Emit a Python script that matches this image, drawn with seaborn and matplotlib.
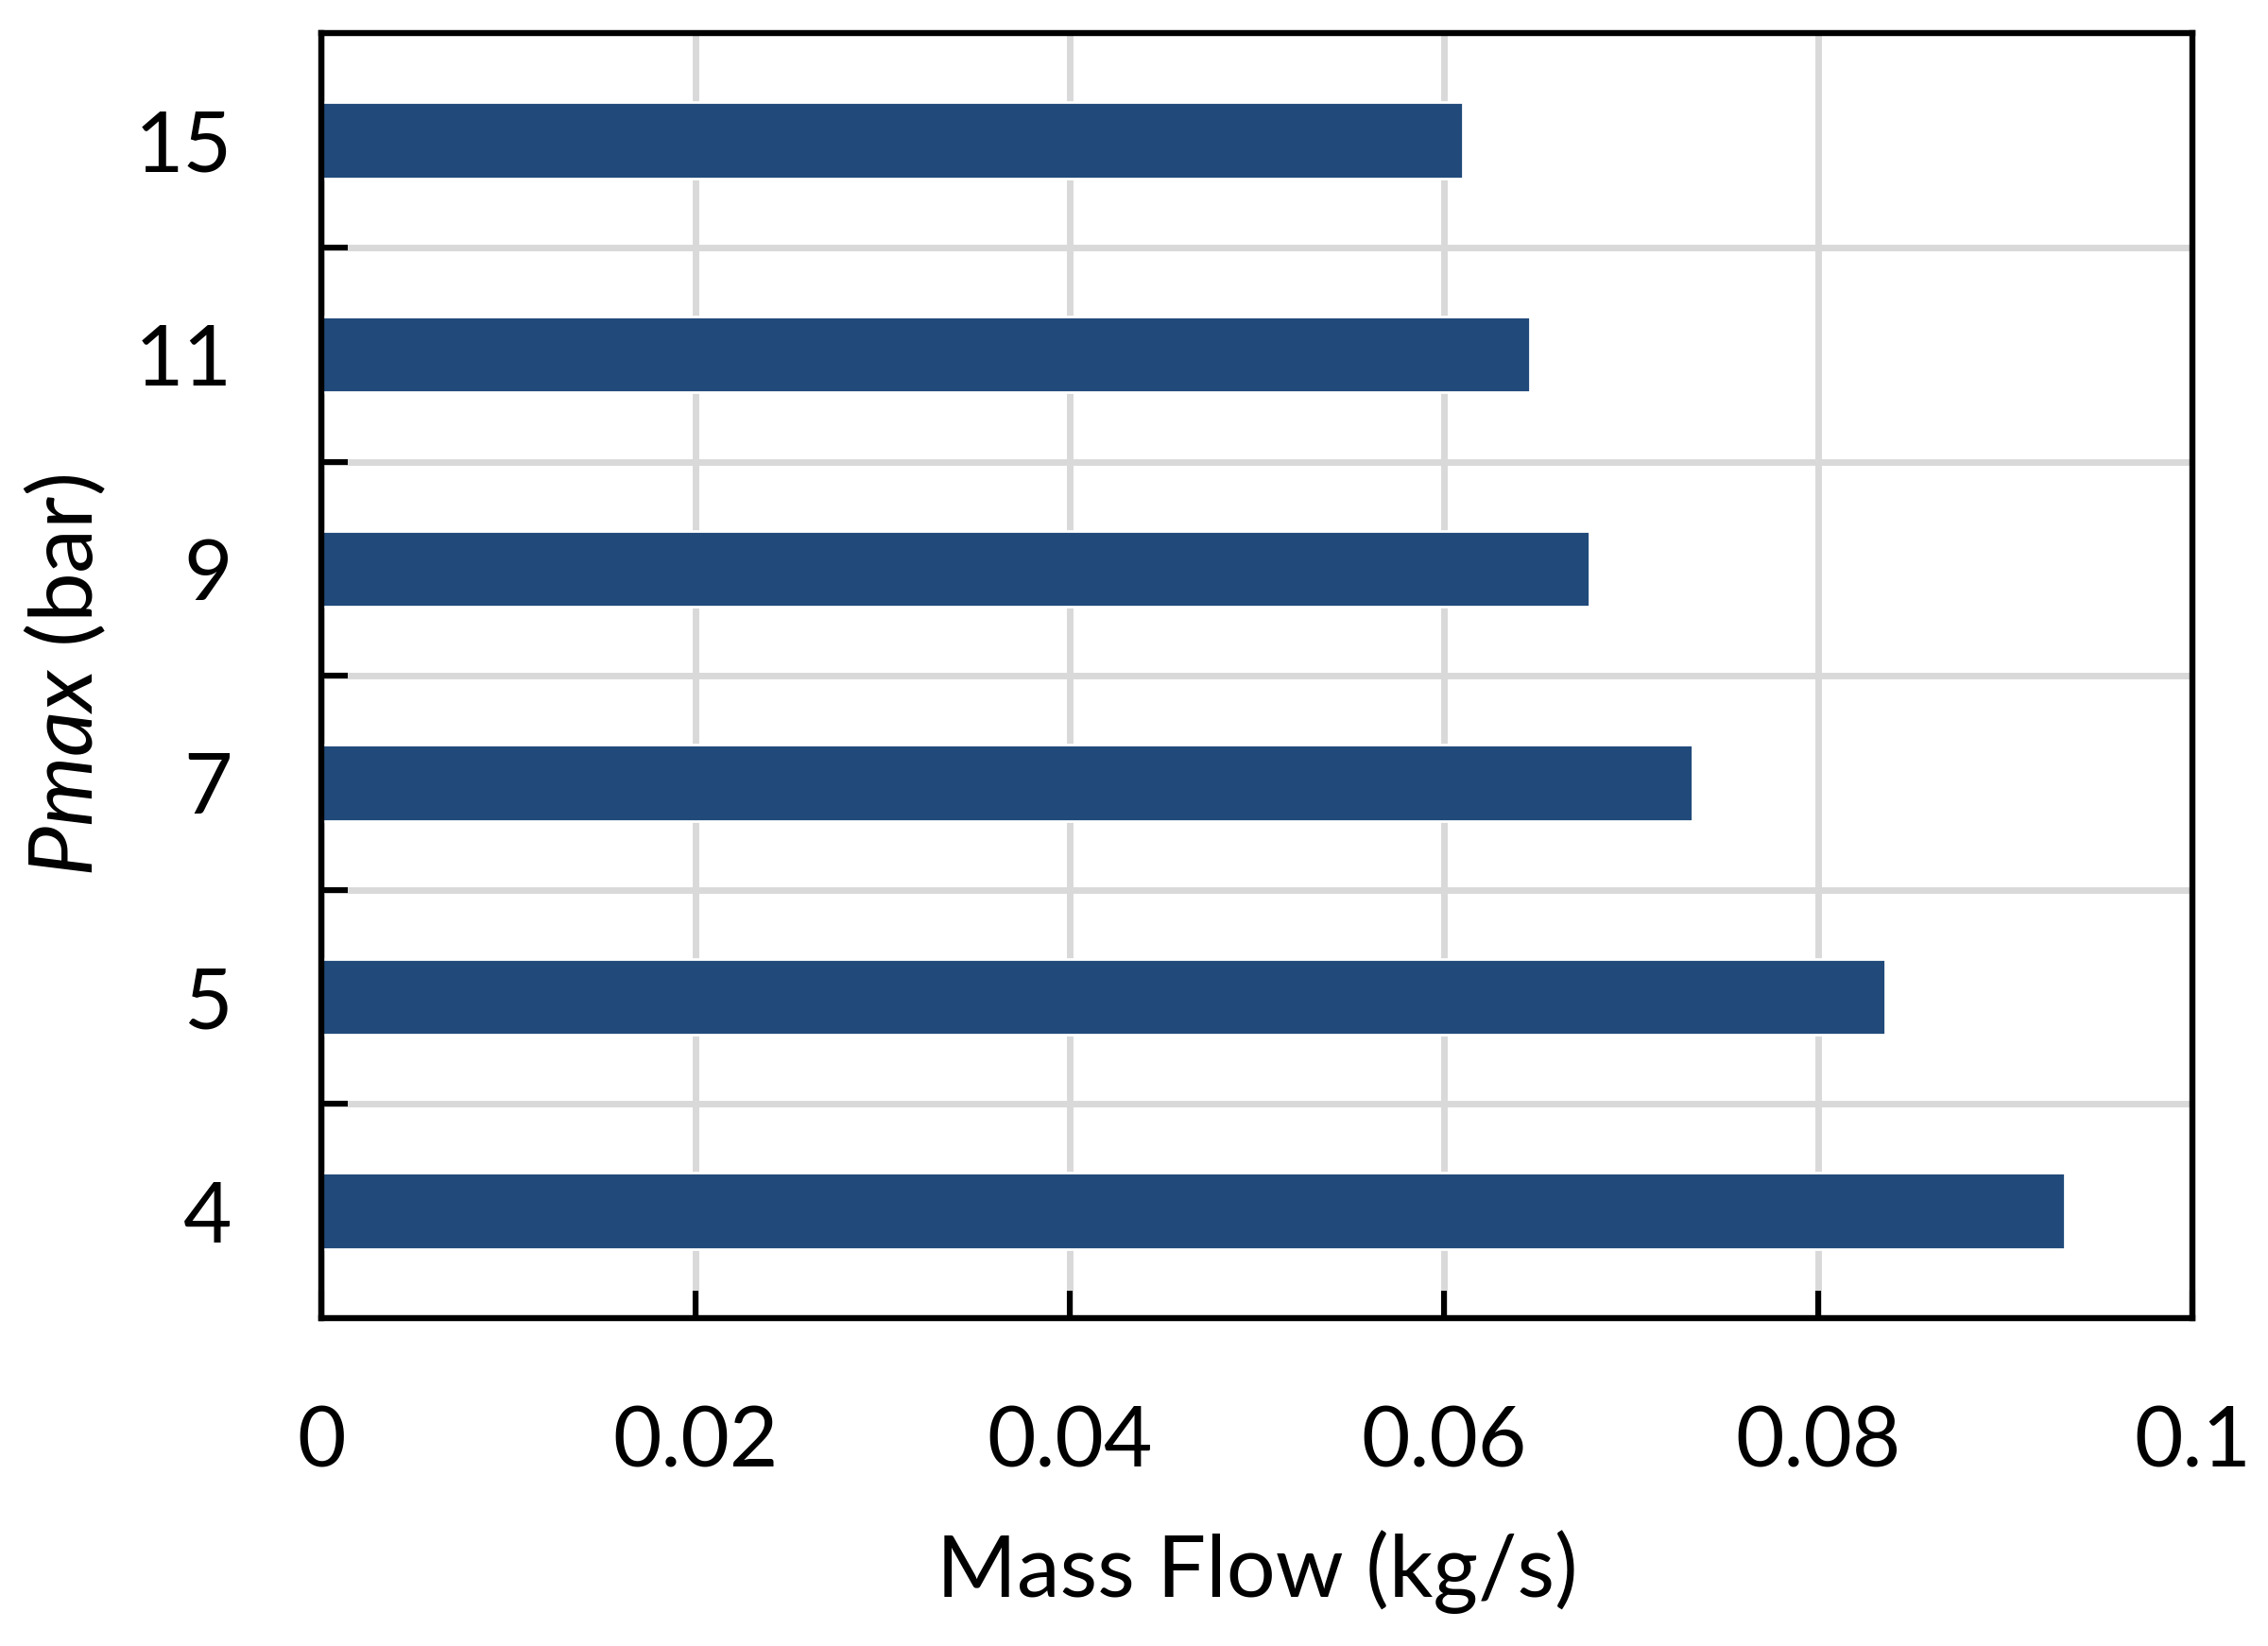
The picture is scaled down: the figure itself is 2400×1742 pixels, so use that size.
import matplotlib
matplotlib.use("Agg")
import matplotlib.pyplot as plt
import seaborn as sns
import pandas as pd

sns.set_style("white")
plt.rcParams["font.family"] = ["Lato", "DejaVu Sans"]
plt.rcParams["mathtext.fontset"] = "custom"
plt.rcParams["mathtext.it"] = "Lato:italic"
plt.rcParams["mathtext.rm"] = "Lato"
plt.rcParams["text.color"] = "black"
plt.rcParams["axes.labelcolor"] = "black"
plt.rcParams["xtick.color"] = "black"
plt.rcParams["ytick.color"] = "black"

# data (top to bottom)
pmax = ["15", "11", "9", "7", "5", "4"]
mass_flow = [0.0610, 0.0646, 0.0678, 0.0733, 0.0836, 0.0932]
x_ticks = [0, 0.02, 0.04, 0.06, 0.08, 0.1]
x_tick_labels = ["0", "0.02", "0.04", "0.06", "0.08", "0.1"]

df = pd.DataFrame({"pmax": pmax, "mass_flow": mass_flow})

fig = plt.figure(figsize=(12, 8.71), dpi=200)
ax = fig.add_axes([0.14167, 0.1992, 0.825, 0.7805])

sns.barplot(data=df, x="mass_flow", y="pmax", order=pmax, orient="h",
            color="#214A7B", saturation=1, width=0.355, ax=ax)

ax.set_xlim(0, 0.1)
ax.set_ylim(len(pmax) - 0.5, -0.5)
ax.set_xticks(x_ticks)
ax.set_xticklabels(x_tick_labels)
ax.set_yticks([i + 0.5 for i in range(len(pmax) - 1)], minor=True)

ax.set_axisbelow(True)
ax.grid(axis="x", which="major", color="#d9d9d9", lw=2.5)
ax.grid(axis="y", which="minor", color="#d9d9d9", lw=2.5)
ax.grid(axis="y", which="major", visible=False)

for s in ax.spines.values():
    s.set_color("black")
    s.set_linewidth(2.3)

ax.tick_params(axis="x", which="major", direction="in", length=10.5, width=2.2,
               bottom=True, top=False, pad=33, labelsize=32)
ax.tick_params(axis="y", which="major", length=0, pad=34, labelsize=32)
ax.tick_params(axis="y", which="minor", direction="in", length=10, width=2.2,
               left=True, right=False)

ax.set_xlabel("Mass Flow (kg/s)", fontsize=33, labelpad=18)
ax.set_ylabel(r"$Pmax$ (bar)", fontsize=34, labelpad=10)

fig.savefig("out.png", dpi=200)
